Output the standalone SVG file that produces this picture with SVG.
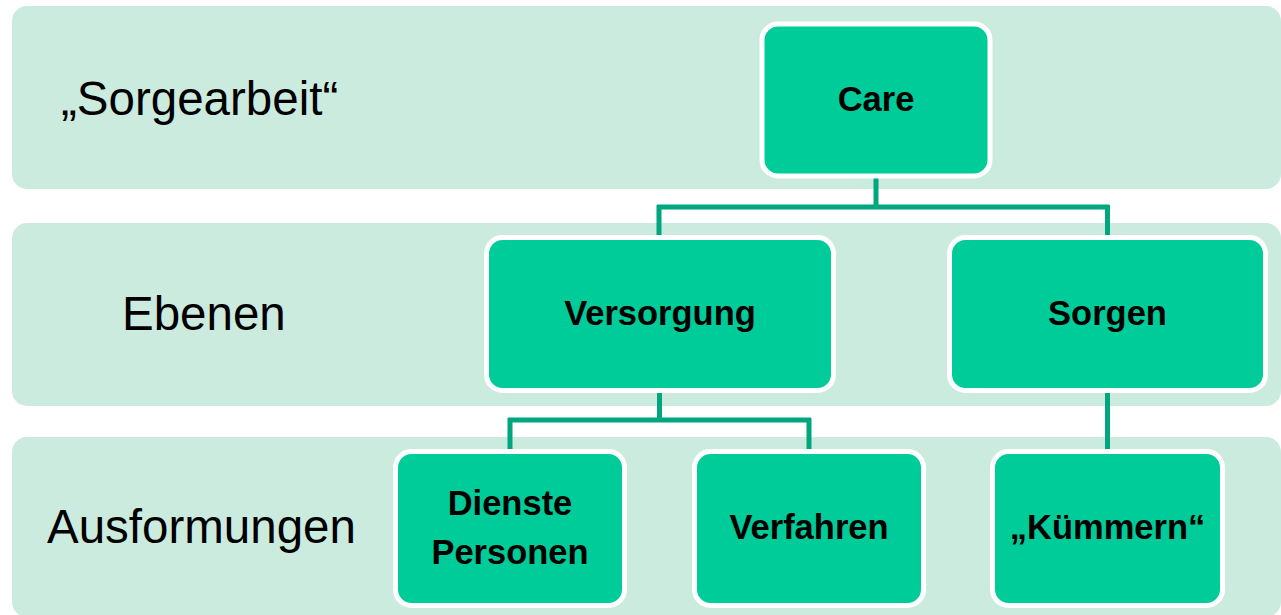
<svg xmlns="http://www.w3.org/2000/svg" width="1281" height="615" viewBox="0 0 1281 615">
<style>
.band{fill:#CCEBDF}
.node rect{fill:#00CC9A;stroke:#FFFFFF;stroke-width:5}
.lbl{font-family:"Liberation Sans",Arial,sans-serif;font-size:47.5px;fill:#000}
.nt{font-family:"Liberation Sans",Arial,sans-serif;font-size:34.5px;font-weight:bold;fill:#000;text-anchor:middle}
.conn{fill:none;stroke:#00A67E;stroke-width:5}
</style>
<rect width="1281" height="615" fill="#FFFFFF"/>
<g id="bands">
<rect class="band" x="12" y="6" width="1269" height="183" rx="15"/>
<rect class="band" x="12" y="223" width="1269" height="183" rx="15"/>
<rect class="band" x="12" y="437" width="1269" height="180" rx="15"/>
</g>
<g id="labels">
<text class="lbl" x="61" y="115">„Sorgearbeit“</text>
<text class="lbl" x="122" y="330">Ebenen</text>
<text class="lbl" x="47" y="543">Ausformungen</text>
</g>
<g id="connectors">
<path class="conn" d="M876 178 V207 M657 207 H1109 M659 205 V237 M1107.5 205 V237"/>
<path class="conn" d="M659.5 392 V420 M508 420 H811 M510 418 V451 M809 418 V451"/>
<path class="conn" d="M1107.5 392 V451"/>
</g>
<g id="care" class="node">
<rect x="762" y="24" width="228" height="152" rx="16"/>
<text class="nt" x="876" y="111">Care</text>
</g>
<g id="versorgung" class="node">
<rect x="486.5" y="237.5" width="347" height="153" rx="16"/>
<text class="nt" x="660" y="325">Versorgung</text>
</g>
<g id="sorgen" class="node">
<rect x="949.5" y="237.5" width="316" height="153" rx="16"/>
<text class="nt" x="1107.5" y="325">Sorgen</text>
</g>
<g id="dienste" class="node">
<rect x="395.5" y="451.5" width="229" height="154" rx="16"/>
<text class="nt" x="510" y="515">Dienste</text>
<text class="nt" x="510" y="564">Personen</text>
</g>
<g id="verfahren" class="node">
<rect x="694.5" y="451.5" width="229" height="154" rx="16"/>
<text class="nt" x="809" y="539">Verfahren</text>
</g>
<g id="kuemmern" class="node">
<rect x="992.5" y="451.5" width="230" height="154" rx="16"/>
<text class="nt" x="1107.5" y="539">„Kümmern“</text>
</g>
</svg>
